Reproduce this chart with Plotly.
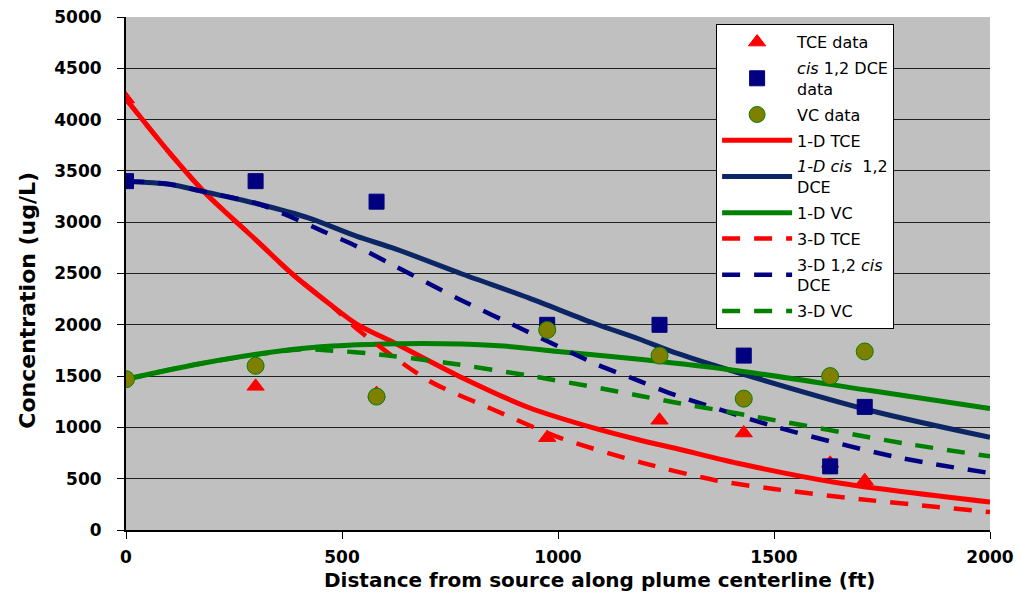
import plotly.graph_objects as go

# ---- data ----
sample_x = [0, 300, 580, 975, 1235, 1430, 1630, 1710]
tce_data = [4200, 1400, 1330, 900, 1070, 945, 650, 480]
dce_data = [3400, 3400, 3200, 2000, 2000, 1700, 620, 1200]
vc_data = [1470, 1600, 1300, 1950, 1700, 1280, 1500, 1740]

tce1_x = [0, 100, 180, 300, 385, 471, 533, 625, 778, 932, 1086, 1186, 1278, 1416, 1647, 2000]
tce1_y = [4200, 3680, 3300, 2830, 2495, 2204, 2010, 1816, 1485, 1194, 990, 880, 790, 650, 460, 272]

tce3_x = [0, 100, 180, 300, 385, 471, 540, 701, 855, 1008, 1200, 1370, 1500, 1700, 2000]
tce3_y = [4200, 3680, 3300, 2830, 2495, 2204, 1942, 1456, 1165, 893, 650, 480, 400, 300, 175]

dce1_x = [0, 101, 178, 309, 424, 533, 625, 778, 932, 1086, 1186, 1278, 1416, 1723, 2000]
dce1_y = [3400, 3370, 3300, 3175, 3040, 2864, 2738, 2495, 2262, 2010, 1864, 1718, 1534, 1165, 903]

dce3_x = [0, 101, 178, 309, 378, 455, 533, 609, 770, 925, 1086, 1186, 1255, 1509, 1785, 2000]
dce3_y = [3400, 3370, 3300, 3175, 3058, 2913, 2767, 2602, 2252, 1942, 1621, 1456, 1340, 1000, 709, 555]

vc1_x = [0, 171, 401, 632, 863, 1000, 1200, 1416, 1723, 2000]
vc1_y = [1470, 1621, 1767, 1815, 1796, 1740, 1660, 1553, 1359, 1184]

vc3_x = [0, 171, 401, 478, 570, 740, 932, 1101, 1186, 1271, 1440, 1801, 2000]
vc3_y = [1470, 1621, 1760, 1748, 1718, 1631, 1505, 1379, 1311, 1243, 1117, 845, 718]

y_ticks = [0, 500, 1000, 1500, 2000, 2500, 3000, 3500, 4000, 4500, 5000]
x_ticks = [0, 500, 1000, 1500, 2000]

x_title = "Distance from source along plume centerline (ft)"
y_title = "Concentration (ug/L)"

RED = "#FF0000"
NAVY_SOLID = "#0B2565"
NAVY = "#000080"
GREEN = "#008000"
OLIVE = "#808000"
FONT = "Liberation Sans, Arial, sans-serif"
WIDE = "DejaVu Sans, sans-serif"

fig = go.Figure()

lines = [
    ("1-D TCE", tce1_x, tce1_y, RED, "solid", 5),
    ("<i>1-D cis</i>  1,2<br>DCE", dce1_x, dce1_y, NAVY_SOLID, "solid", 5),
    ("1-D VC", vc1_x, vc1_y, GREEN, "solid", 5),
    ("3-D TCE", tce3_x, tce3_y, RED, "18px,14px", 4.5),
    ("3-D 1,2 <i>cis</i><br>DCE", dce3_x, dce3_y, NAVY, "18px,14px", 4.5),
    ("3-D VC", vc3_x, vc3_y, GREEN, "18px,14px", 4.5),
]
for i, (name, xs, ys, col, dash, w) in enumerate(lines):
    fig.add_trace(go.Scatter(
        x=xs, y=ys, mode="lines", name=name,
        line=dict(color=col, width=w, dash=dash, shape="spline", smoothing=0.8),
        legendrank=100 + i, legendgroup=f"g{i+3}"))

markers = [
    ("TCE data", tce_data, "triangle-up", RED, RED, 15),
    ("<i>cis</i> 1,2 DCE<br>data", dce_data, "square", NAVY, NAVY, 15),
    ("VC data", vc_data, "circle", OLIVE, GREEN, 17),
]
for i, (name, ys, sym, col, lc, sz) in enumerate(markers):
    fig.add_trace(go.Scatter(
        x=sample_x, y=ys, mode="markers", name=name,
        marker=dict(symbol=sym, color=col, size=sz, line=dict(color=lc, width=1)),
        legendrank=i, legendgroup=f"g{i}"))

fig.update_layout(
    width=1007, height=588,
    paper_bgcolor="white",
    plot_bgcolor="#C0C0C0",
    margin=dict(l=118, r=25, t=9, b=66, autoexpand=False),
    font=dict(family=FONT, color="black"),
    showlegend=True,
    legend=dict(
        x=0.683, y=0.986, xanchor="left", yanchor="top",
        bgcolor="white", bordercolor="black", borderwidth=1,
        font=dict(size=16, family=WIDE),
        traceorder="grouped", tracegroupgap=2,
        itemwidth=70,
    ),
    annotations=[
        dict(text=f"<b>{x_title}</b>", xref="paper", yref="paper",
             x=0.548, y=0, xanchor="center", yanchor="middle", yshift=-50,
             showarrow=False, font=dict(size=20, family=WIDE)),
        dict(text=f"<b>{y_title}</b>", xref="paper", yref="paper",
             x=0, y=0.447, xanchor="center", yanchor="middle", xshift=-98,
             textangle=-90, showarrow=False, font=dict(size=22, family=WIDE)),
    ],
)
fig.update_xaxes(
    range=[0, 2000], tickvals=x_ticks, ticktext=[f"<b>{v}</b>" for v in x_ticks],
    showgrid=False, zeroline=False, automargin=False,
    showline=True, linecolor="black", linewidth=2,
    ticks="outside", ticklen=7, tickcolor="black", ticklabelstandoff=4,
    ticklabeloverflow="allow",
    tickfont=dict(size=17, family=WIDE),
)
fig.update_yaxes(
    range=[0, 5000], tickvals=y_ticks, ticktext=[f"<b>{v}</b>" for v in y_ticks],
    showgrid=True, gridcolor="#202020", gridwidth=1, zeroline=False, automargin=False,
    showline=True, linecolor="black", linewidth=2,
    ticks="outside", ticklen=7, tickcolor="black", ticklabelstandoff=12,
    ticklabeloverflow="allow",
    tickfont=dict(size=17, family=WIDE),
)

fig.write_html("out.html")
